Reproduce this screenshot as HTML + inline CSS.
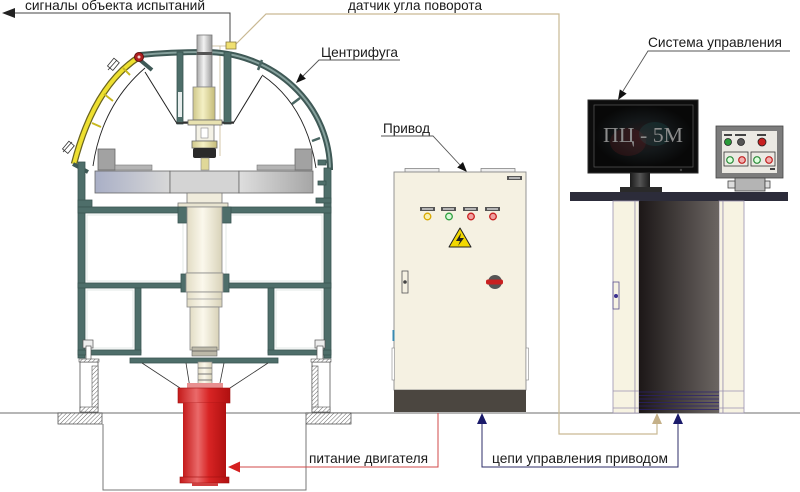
<!DOCTYPE html>
<html><head><meta charset="utf-8">
<style>
html,body{margin:0;padding:0;background:#fff;width:800px;height:492px;overflow:hidden}
svg{display:block}
text{font-family:"Liberation Sans",Arial,sans-serif;font-size:14px;fill:#1a1a1a}
</style></head><body>
<svg width="800" height="492" viewBox="0 0 800 492" xmlns="http://www.w3.org/2000/svg">
<defs>
<pattern id="hatch" width="3" height="3" patternUnits="userSpaceOnUse" patternTransform="rotate(45)"><rect width="3" height="3" fill="#fff"/><line x1="0" y1="0" x2="0" y2="3" stroke="#555" stroke-width="0.9"/></pattern>
<linearGradient id="pl" x1="0" x2="1"><stop offset="0" stop-color="#a9afc6"/><stop offset="1" stop-color="#d8d8d8"/></linearGradient>
<linearGradient id="pr" x1="0" x2="1"><stop offset="0" stop-color="#dedede"/><stop offset="1" stop-color="#a6a6a6"/></linearGradient>
<linearGradient id="ped" x1="0" x2="1"><stop offset="0" stop-color="#1c1717"/><stop offset="1" stop-color="#6b6562"/></linearGradient>
<linearGradient id="red" x1="0" x2="1"><stop offset="0" stop-color="#c41a1a"/><stop offset="0.35" stop-color="#ea6a6a"/><stop offset="0.6" stop-color="#d82424"/><stop offset="1" stop-color="#b01010"/></linearGradient>
<linearGradient id="tube" x1="0" x2="1"><stop offset="0" stop-color="#a8a8a8"/><stop offset="0.45" stop-color="#f2f2f2"/><stop offset="1" stop-color="#9a9a9a"/></linearGradient>
<linearGradient id="ylw" x1="0" x2="1"><stop offset="0" stop-color="#cfc78a"/><stop offset="0.45" stop-color="#f4f0c4"/><stop offset="1" stop-color="#c4bb78"/></linearGradient>
<linearGradient id="col" x1="0" x2="1"><stop offset="0" stop-color="#e2dcc4"/><stop offset="0.45" stop-color="#fbf8ec"/><stop offset="1" stop-color="#d8d2b8"/></linearGradient>
<linearGradient id="neck" x1="0" x2="1"><stop offset="0" stop-color="#1a1a1a"/><stop offset="0.5" stop-color="#555"/><stop offset="1" stop-color="#1a1a1a"/></linearGradient>
<radialGradient id="scr" cx="0.5" cy="0.5" r="0.5"><stop offset="0" stop-color="#2a1a1c"/><stop offset="0.5" stop-color="#14181a"/><stop offset="1" stop-color="#080808"/></radialGradient>
</defs>

<!-- ground line -->
<line x1="0" y1="413" x2="800" y2="413" stroke="#8a8a8a" stroke-width="1.2"/>

<!-- pit -->
<polyline points="103,424 103,490 306,490 306,424" fill="none" stroke="#777" stroke-width="1"/>
<rect x="58" y="413" width="44" height="11" fill="url(#hatch)" stroke="#555" stroke-width="0.8"/>
<rect x="306" y="413" width="45" height="11" fill="url(#hatch)" stroke="#555" stroke-width="0.8"/>

<!-- signal line -->
<polyline points="230,44 230,13 14,13" fill="none" stroke="#444" stroke-width="1"/>
<polygon points="2,13 15,8 15,18" fill="#222"/>
<text x="25" y="10" textLength="180" lengthAdjust="spacingAndGlyphs">сигналы объекта испытаний</text>

<!-- sensor line -->
<polyline points="236,44 266,14 559,14 559,434 657,434 657,424" fill="none" stroke="#c9b994" stroke-width="1.2"/>
<polygon points="657,413 652,424 662,424" fill="#c4b088"/>
<line x1="212" y1="46" x2="226" y2="46" stroke="#c9b994" stroke-width="0.8"/>
<line x1="220" y1="46" x2="220" y2="156" stroke="#c9b994" stroke-width="0.8"/>
<text x="348" y="10" textLength="134" lengthAdjust="spacingAndGlyphs">датчик угла поворота</text>

<!-- Центрифуга label -->
<text x="321" y="57" textLength="77" lengthAdjust="spacingAndGlyphs">Центрифуга</text>
<polyline points="400,60 319,60 303,76" fill="none" stroke="#555" stroke-width="0.9"/>
<polygon points="296,83 305.9,78.7 300.3,73.1" fill="#111"/>

<!-- ===== Centrifuge ===== -->
<!-- inner arcs -->
<path d="M145 68 Q 102 105 93 166" fill="none" stroke="#222" stroke-width="0.9"/>
<path d="M262 75 Q 306 105 316 168" fill="none" stroke="#222" stroke-width="0.9"/>
<!-- cone -->
<path d="M145 72 L176 122 L234 122 L262 76" fill="none" stroke="#222" stroke-width="1"/>
<!-- dome -->
<path d="M140 55 Q 170 52 205 52 A 125 118 0 0 1 330 170" fill="none" stroke="#3f5956" stroke-width="6"/>
<path d="M140 55 Q 170 52 205 52 A 125 118 0 0 1 330 170" fill="none" stroke="#86a19d" stroke-width="2"/>
<!-- dome ribs -->
<g stroke="#4a6663" stroke-width="2.5">
<line x1="262" y1="60" x2="258" y2="70"/>
<line x1="300" y1="98" x2="292" y2="104"/>
<line x1="320" y1="138" x2="312" y2="141"/>
<line x1="327" y1="162" x2="319" y2="163"/>
</g>
<!-- hinge piece -->
<path d="M140 60 L152 70" stroke="#3f5956" stroke-width="4"/>
<!-- yellow flap -->
<path d="M139 57 Q 94 86 74 164" fill="none" stroke="#6a6420" stroke-width="6.5"/>
<path d="M139 57 Q 94 86 74 164" fill="none" stroke="#eee030" stroke-width="4"/>
<g stroke="#c8b820" stroke-width="2">
<line x1="104" y1="94" x2="113" y2="101"/>
<line x1="92" y1="123" x2="101" y2="127"/>
<line x1="123" y1="68" x2="130" y2="75"/>
</g>
<circle cx="139" cy="57" r="4.5" fill="#b02020" stroke="#601010" stroke-width="1"/>
<circle cx="139" cy="57" r="1.5" fill="#f4d0d0"/>
<!-- clamps -->
<g fill="#fff" stroke="#333" stroke-width="0.8">
<rect x="108" y="61" width="10" height="7" transform="rotate(-50 113 64)"/>
<line x1="108" y1="70" x2="117" y2="60"/>
<rect x="63" y="144" width="10" height="7" transform="rotate(-50 68 147)"/>
<line x1="63" y1="152" x2="72" y2="142"/>
</g>
<path d="M73 164 L88 172" stroke="#3f5956" stroke-width="4"/>

<!-- inner walls -->
<rect x="177" y="52" width="6" height="72" fill="#4e6e6a" stroke="#3a5552" stroke-width="0.8"/>
<rect x="178" y="92" width="4" height="25" fill="#e8eeee"/>
<rect x="224" y="52" width="7" height="72" fill="#4e6e6a" stroke="#3a5552" stroke-width="0.8"/>
<line x1="176" y1="123" x2="234" y2="123" stroke="#333" stroke-width="1.5"/>

<!-- central tube -->
<rect x="197" y="35" width="15" height="52" fill="url(#tube)" stroke="#777" stroke-width="0.8"/>
<rect x="197" y="52" width="15" height="3" fill="#555"/>
<rect x="193" y="87" width="22" height="33" fill="url(#ylw)" stroke="#888" stroke-width="0.8"/>
<rect x="188" y="120" width="34" height="5" fill="#e8e2b0" stroke="#666" stroke-width="0.8"/>
<rect x="196" y="125" width="18" height="16" fill="#f4f2e6" stroke="#777" stroke-width="0.8"/>
<rect x="201" y="128" width="7" height="10" fill="#fff" stroke="#888" stroke-width="0.6"/>
<rect x="192" y="141" width="25" height="7" fill="url(#ylw)" stroke="#666" stroke-width="0.8"/>
<rect x="193" y="148" width="23" height="10" fill="#2a2a2a" rx="2"/>
<rect x="201" y="158" width="8" height="12" fill="#e0d898" stroke="#888" stroke-width="0.6"/>
<rect x="226" y="42" width="10" height="7" fill="#f0e070" stroke="#8a7a40" stroke-width="0.8"/>

<!-- platform -->
<rect x="98" y="149" width="17" height="21" fill="#a2a2a2" stroke="#666" stroke-width="0.8"/>
<rect x="115" y="165" width="37" height="5" fill="#b4b4b4" stroke="#777" stroke-width="0.6"/>
<rect x="295" y="149" width="17" height="21" fill="#a2a2a2" stroke="#666" stroke-width="0.8"/>
<rect x="257" y="165" width="38" height="5" fill="#b4b4b4" stroke="#777" stroke-width="0.6"/>
<rect x="95" y="171" width="75" height="22" fill="url(#pl)" stroke="#666" stroke-width="0.8"/>
<rect x="170" y="171" width="69" height="22" fill="#d4d4d4" stroke="#666" stroke-width="0.8"/>
<rect x="239" y="171" width="74" height="22" fill="url(#pr)" stroke="#666" stroke-width="0.8"/>

<!-- walls / frame -->
<g fill="#4e6e6a" stroke="#3a5552" stroke-width="0.8">
<rect x="78" y="162" width="7" height="196"/>
<rect x="324" y="168" width="7" height="190"/>
<rect x="318" y="160" width="8" height="5"/>
<rect x="318" y="181" width="8" height="4"/>
<rect x="316" y="198" width="15" height="5"/>
<rect x="78" y="200" width="14" height="7"/>
<rect x="78" y="207" width="253" height="6"/>
<rect x="78" y="283" width="253" height="5"/>
<rect x="135" y="288" width="6" height="65"/>
<rect x="268" y="288" width="6" height="65"/>
<rect x="78" y="350" width="63" height="5"/>
<rect x="268" y="350" width="63" height="5"/>
<rect x="130" y="358" width="148" height="5"/>
</g>
<g stroke="#dde3e2" stroke-width="0.8" fill="none">
<rect x="87" y="215" width="96" height="66"/>
<rect x="226" y="215" width="96" height="66"/>
<rect x="87" y="290" width="46" height="58"/>
<rect x="276" y="290" width="46" height="58"/>
</g>

<!-- column -->
<rect x="187" y="193" width="35" height="10" fill="#f0ecdc" stroke="#777" stroke-width="0.8"/>
<rect x="178" y="203" width="50" height="4" fill="#e8e4d0" stroke="#777" stroke-width="0.8"/>
<rect x="178" y="207" width="9" height="16" fill="#4e6e6a" stroke="#3a5552" stroke-width="0.8"/>
<rect x="222" y="207" width="9" height="16" fill="#4e6e6a" stroke="#3a5552" stroke-width="0.8"/>
<rect x="187" y="207" width="35" height="66" fill="url(#col)" stroke="#888" stroke-width="0.8"/>
<rect x="181" y="274" width="7" height="18" fill="#4e6e6a" stroke="#3a5552" stroke-width="0.8"/>
<rect x="222" y="274" width="7" height="18" fill="#4e6e6a" stroke="#3a5552" stroke-width="0.8"/>
<rect x="186" y="273" width="37" height="19" fill="url(#col)" stroke="#888" stroke-width="0.8"/>
<rect x="187" y="292" width="35" height="15" fill="url(#col)" stroke="#888" stroke-width="0.8"/>
<line x1="187" y1="299" x2="222" y2="299" stroke="#999" stroke-width="0.7"/>
<rect x="190" y="307" width="29" height="43" fill="url(#col)" stroke="#888" stroke-width="0.8"/>
<rect x="192" y="347" width="25" height="9" fill="#bcb8a8" stroke="#666" stroke-width="0.6"/>
<line x1="192" y1="351" x2="217" y2="351" stroke="#555" stroke-width="0.8"/>

<!-- cone lines -->
<g stroke="#333" stroke-width="0.8">
<line x1="142" y1="363" x2="180" y2="388"/>
<line x1="268" y1="363" x2="230" y2="388"/>
<line x1="186" y1="363" x2="190" y2="388"/>
<line x1="224" y1="363" x2="219" y2="388"/>
</g>
<!-- shaft -->
<rect x="198" y="362" width="14" height="24" fill="url(#col)" stroke="#888" stroke-width="0.7"/>
<line x1="198" y1="368" x2="212" y2="368" stroke="#777" stroke-width="1"/>
<line x1="198" y1="374" x2="212" y2="374" stroke="#777" stroke-width="1"/>
<line x1="198" y1="380" x2="212" y2="380" stroke="#777" stroke-width="1"/>

<!-- motor -->
<rect x="187" y="383" width="36" height="6" fill="#e89090"/>
<rect x="178" y="388" width="52" height="15" fill="url(#red)" stroke="#a01010" stroke-width="0.6"/>
<rect x="183" y="403" width="43" height="74" fill="url(#red)"/>
<rect x="180" y="477" width="49" height="6" fill="url(#red)" stroke="#a01010" stroke-width="0.6"/>
<rect x="192" y="483" width="26" height="3" fill="#d04040"/>

<!-- supports -->
<g>
<rect x="83" y="340" width="10" height="8" fill="#eee" stroke="#555" stroke-width="0.7"/>
<rect x="86" y="346" width="5" height="22" fill="#fff" stroke="#555" stroke-width="0.7"/>
<rect x="80" y="362" width="18" height="50" fill="#fff" stroke="#555" stroke-width="0.8"/>
<rect x="92" y="366" width="6" height="42" fill="url(#hatch)" stroke="#555" stroke-width="0.6"/>
<rect x="80" y="407" width="18" height="5" fill="url(#hatch)" stroke="#555" stroke-width="0.6"/>
<rect x="79" y="359" width="20" height="3" fill="url(#hatch)" stroke="#555" stroke-width="0.6"/>
<rect x="315" y="340" width="10" height="8" fill="#eee" stroke="#555" stroke-width="0.7"/>
<rect x="317" y="346" width="6" height="18" fill="#fff" stroke="#555" stroke-width="0.7"/>
<rect x="312" y="362" width="18" height="50" fill="#fff" stroke="#555" stroke-width="0.8"/>
<rect x="312" y="366" width="6" height="42" fill="url(#hatch)" stroke="#555" stroke-width="0.6"/>
<rect x="312" y="407" width="18" height="5" fill="url(#hatch)" stroke="#555" stroke-width="0.6"/>
<rect x="311" y="359" width="20" height="3" fill="url(#hatch)" stroke="#555" stroke-width="0.6"/>
</g>

<!-- power line -->
<polyline points="438,413 438,467 240,467" fill="none" stroke="#d04848" stroke-width="1"/>
<polygon points="228,467 240,461.5 240,472.5" fill="#d42020"/>
<text x="309" y="463" textLength="119" lengthAdjust="spacingAndGlyphs">питание двигателя</text>

<!-- control lines -->
<polyline points="482,424 482,467 678,467 678,424" fill="none" stroke="#2c2c6a" stroke-width="1"/>
<polygon points="482,413 477,424 487,424" fill="#1a1a6a"/>
<polygon points="678,413 673,424 683,424" fill="#1a1a6a"/>
<text x="492" y="463" textLength="176" lengthAdjust="spacingAndGlyphs">цепи управления приводом</text>

<!-- ===== Privod cabinet ===== -->
<text x="383" y="133" textLength="47" lengthAdjust="spacingAndGlyphs">Привод</text>
<polyline points="381,136 433,136 460,165" fill="none" stroke="#555" stroke-width="0.9"/>
<polygon points="467,172 457.2,167.5 463,162" fill="#111"/>
<rect x="405" y="168.5" width="34" height="3.5" fill="#eee" stroke="#777" stroke-width="0.7"/>
<rect x="481" y="168.5" width="34" height="3.5" fill="#eee" stroke="#777" stroke-width="0.7"/>
<rect x="394" y="172" width="132" height="218" fill="#f5f1e2" stroke="#8a8a8a" stroke-width="0.9"/>
<rect x="394" y="390" width="132" height="22" fill="#4b4640"/>
<rect x="392" y="348" width="2.5" height="32" fill="#fff" stroke="#888" stroke-width="0.6"/>
<rect x="526" y="348" width="2.5" height="32" fill="#fff" stroke="#888" stroke-width="0.6"/>
<rect x="392.5" y="330" width="2" height="11" fill="#3a8ab0"/>
<rect x="507" y="176" width="15" height="4" fill="#555"/>
<rect x="509" y="177.3" width="11" height="1.4" fill="#ddd"/>
<g fill="#555">
<rect x="420" y="207" width="15" height="4"/><rect x="441" y="207" width="15" height="4"/>
<rect x="463" y="207" width="15" height="4"/><rect x="485" y="207" width="15" height="4"/>
</g>
<g fill="#ddd">
<rect x="422" y="208.3" width="11" height="1.4"/><rect x="443" y="208.3" width="11" height="1.4"/>
<rect x="465" y="208.3" width="11" height="1.4"/><rect x="487" y="208.3" width="11" height="1.4"/>
</g>
<circle cx="427.5" cy="216.5" r="3.3" fill="#f8f0b0" stroke="#d8a800" stroke-width="1.3"/>
<circle cx="449" cy="216.5" r="3.3" fill="#d8f8d8" stroke="#30a040" stroke-width="1.3"/>
<circle cx="471" cy="216.5" r="3.3" fill="#f0a0a0" stroke="#c82020" stroke-width="1.3"/>
<circle cx="493" cy="216.5" r="3.3" fill="#f0a0a0" stroke="#c82020" stroke-width="1.3"/>
<polygon points="460,228 449,247 471,247" fill="#f2d800" stroke="#222" stroke-width="1" stroke-linejoin="round"/>
<path d="M461 233 L456 241 L460 241 L458 246 L464 238 L460 238 Z" fill="#222"/>
<rect x="402" y="271" width="6" height="22" fill="#f5f1e2" stroke="#555" stroke-width="0.8"/>
<circle cx="405" cy="282" r="1.8" fill="#444"/>
<circle cx="495" cy="282" r="7" fill="#555"/>
<rect x="486" y="279.5" width="17" height="5" rx="2" fill="#c82020"/>

<!-- ===== Control system ===== -->
<text x="648" y="47" textLength="134" lengthAdjust="spacingAndGlyphs">Система управления</text>
<polyline points="790,51 648,51 623,91" fill="none" stroke="#555" stroke-width="0.9"/>
<polygon points="618,100 626.6,93.6 619.8,89.4" fill="#111"/>

<!-- monitor -->
<rect x="588" y="100" width="110" height="73" fill="#0d0d0d" stroke="#2a2a2a" stroke-width="1"/>
<rect x="594" y="105" width="99" height="62" fill="url(#scr)" stroke="#5a5a5a" stroke-width="0.7"/>
<ellipse cx="628" cy="142" rx="18" ry="14" fill="#6a1a20" opacity="0.25"/>
<ellipse cx="655" cy="134" rx="16" ry="12" fill="#1a5a5a" opacity="0.25"/>
<text x="603" y="142" textLength="80" lengthAdjust="spacingAndGlyphs" style="font-family:'Liberation Serif',serif;font-size:21px;fill:#8c8c8c">ПЦ - 5М</text>
<circle cx="681" cy="170" r="1.2" fill="#444"/>
<rect x="630" y="173" width="20" height="15" fill="url(#neck)"/>
<rect x="620" y="187" width="42" height="5" fill="#2a2a2a"/>

<!-- control box -->
<rect x="716" y="126" width="67" height="52" fill="#7c7c7c" stroke="#444" stroke-width="0.8"/>
<rect x="722" y="131" width="55" height="42" fill="#ebe9e3"/>
<g fill="#444">
<rect x="724" y="134" width="8" height="2"/><rect x="735" y="134" width="11" height="2"/><rect x="757" y="134" width="9" height="2"/>
</g>
<circle cx="728" cy="142" r="3.5" fill="#2a9a3a" stroke="#222" stroke-width="0.8"/>
<circle cx="741" cy="142" r="3.5" fill="#555" stroke="#222" stroke-width="0.8"/>
<circle cx="762" cy="142" r="4" fill="#c82020" stroke="#222" stroke-width="0.8"/>
<rect x="724" y="152" width="24" height="14" fill="none" stroke="#333" stroke-width="0.8"/>
<rect x="751" y="152" width="24" height="14" fill="none" stroke="#333" stroke-width="0.8"/>
<circle cx="730" cy="160" r="3.3" fill="#dfd" stroke="#2a8a3a" stroke-width="1.2"/>
<circle cx="742" cy="160" r="3.3" fill="#f2b0b0" stroke="#c02020" stroke-width="1.2"/>
<circle cx="757" cy="160" r="3.3" fill="#dfd" stroke="#2a8a3a" stroke-width="1.2"/>
<circle cx="769" cy="160" r="3.3" fill="#f2b0b0" stroke="#c02020" stroke-width="1.2"/>
<rect x="770" y="168" width="5" height="2" fill="#444"/>
<rect x="735" y="178" width="30" height="13" fill="#b4b4b4" stroke="#444" stroke-width="0.8"/>
<rect x="728" y="181" width="7" height="7" fill="#ddd" stroke="#444" stroke-width="0.8"/>
<rect x="765" y="181" width="5" height="7" fill="#ddd" stroke="#444" stroke-width="0.8"/>

<!-- table -->
<rect x="570" y="192" width="218" height="9" fill="#2c2c3a"/>
<!-- pedestal -->
<g fill="#f7f3e2" stroke="#9a92b0" stroke-width="0.8">
<rect x="613" y="201" width="22" height="212"/>
<rect x="635" y="201" width="4" height="212"/>
<rect x="719" y="201" width="4" height="212"/>
<rect x="723" y="201" width="21" height="212"/>
</g>
<rect x="639" y="201" width="80" height="212" fill="url(#ped)"/>
<g stroke="#9a92b0" stroke-width="0.8">
<line x1="613" y1="391" x2="639" y2="391"/><line x1="613" y1="408" x2="639" y2="408"/>
<line x1="719" y1="391" x2="744" y2="391"/><line x1="719" y1="408" x2="744" y2="408"/>
</g>
<g stroke="#2a2070" stroke-width="1" opacity="0.7">
<line x1="639" y1="392" x2="719" y2="392"/><line x1="639" y1="395.5" x2="719" y2="395.5"/>
<line x1="639" y1="399" x2="719" y2="399"/><line x1="639" y1="402.5" x2="719" y2="402.5"/>
<line x1="639" y1="406" x2="719" y2="406"/><line x1="639" y1="409.5" x2="719" y2="409.5"/>
</g>
<rect x="613" y="282" width="6" height="27" fill="none" stroke="#5a5090" stroke-width="0.8"/>
<circle cx="616" cy="296" r="2" fill="#3a3090"/>
</svg>
</body></html>
